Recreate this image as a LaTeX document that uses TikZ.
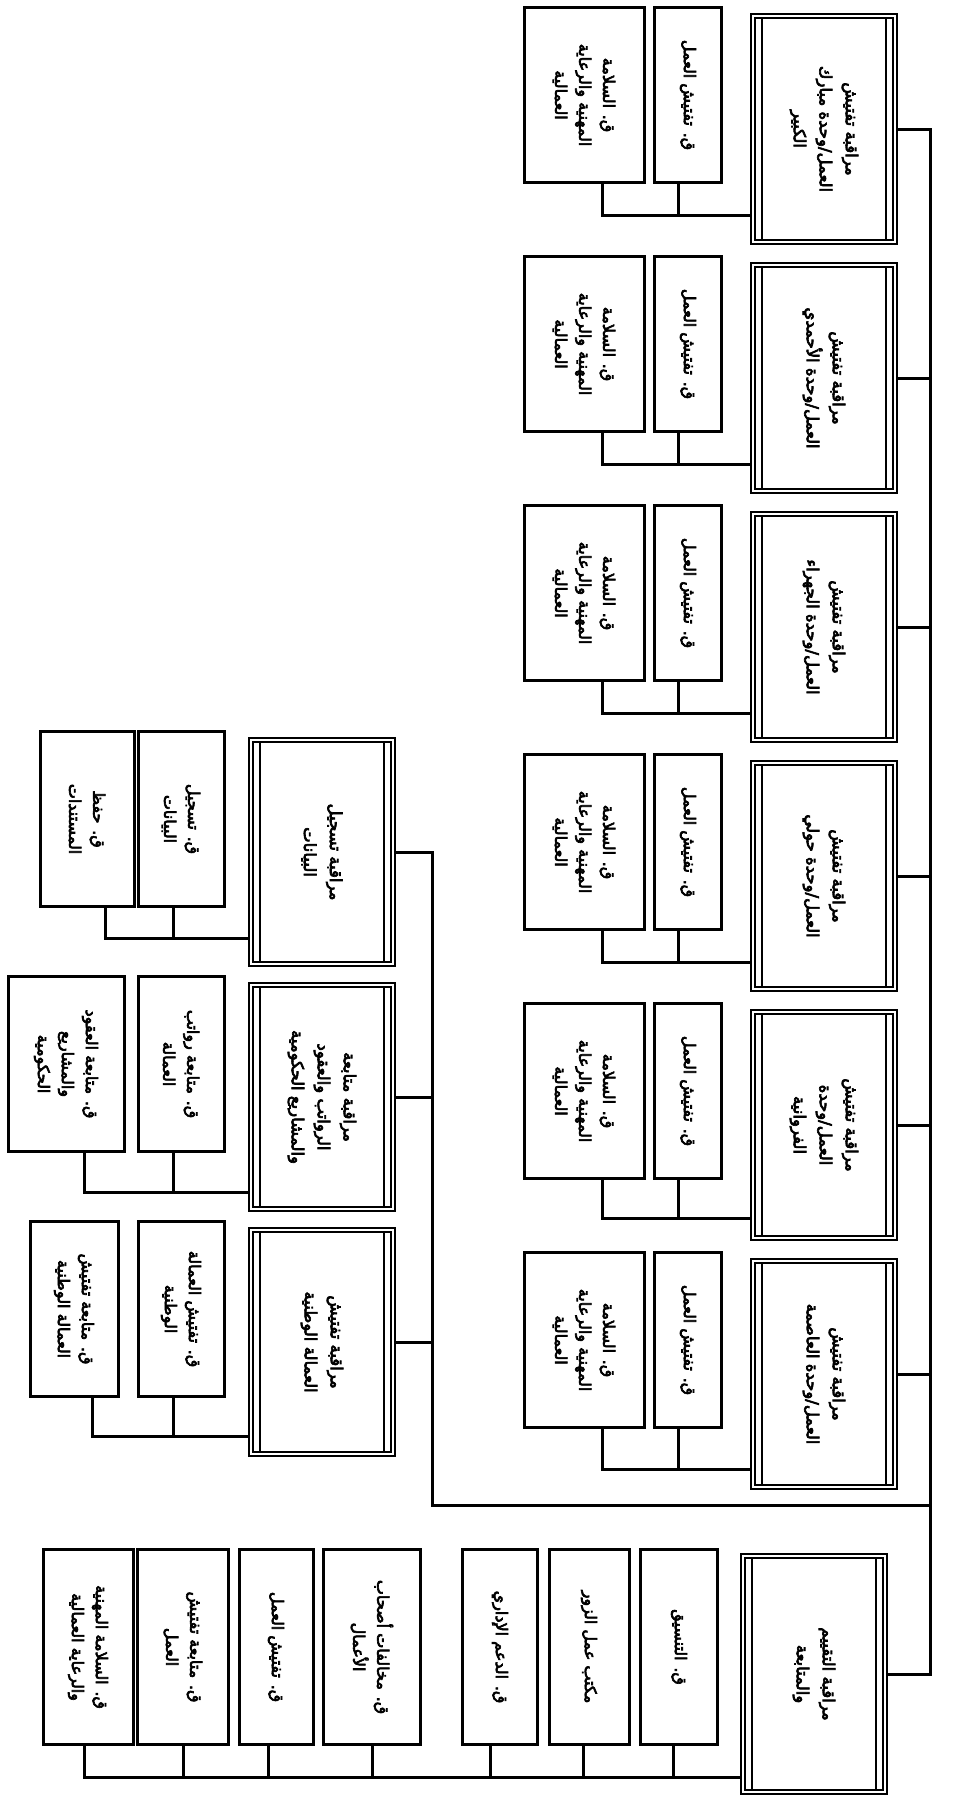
\documentclass[tikz,border=0pt]{standalone}
\usepackage{fontspec}
\newfontfamily\arabicfont[Script=Arabic,FakeBold=4]{DejaVu Sans}
\TeXXeTstate=1
\usetikzlibrary{backgrounds}
\newcommand\artxt[1]{\beginR #1\endR}
\tikzset{
  unitbox/.style={draw, line width=1.7pt, double, double distance=2.3pt, rotate=-90,
    minimum width=226pt, minimum height=142pt, align=center, inner sep=4pt,
    font=\arabicfont\fontsize{16.5}{26}\selectfont,
    path picture={\draw[line width=2pt] ([shift={(9pt,9pt)}]path picture bounding box.south west)
      rectangle ([shift={(-9pt,-9pt)}]path picture bounding box.north east);}},
  secbox/.style={draw, line width=3pt, rotate=-90, minimum width=175pt, align=center,
    inner sep=3pt, font=\arabicfont\fontsize{16}{24}\selectfont},
  link/.style={line width=3pt},
}
\begin{document}
\begin{tikzpicture}[x=1pt,y=-1pt]
\useasboundingbox (0,0) rectangle (954,1797);
% units of labour inspection
\node[unitbox] (mbk) at (824,129) {\artxt{مراقبة تفتيش}\\\artxt{العمل/وحدة مبارك}\\\artxt{الكبير}};
\node[secbox, minimum height=67pt] (mbk-a) at (688,95) {\artxt{ق. تفتيش العمل}};
\node[secbox, minimum height=120pt] (mbk-b) at (584,95) {\artxt{ق. السلامة}\\\artxt{المهنية والرعاية}\\\artxt{العمالية}};
\node[unitbox] (ahm) at (824,378) {\artxt{مراقبة تفتيش}\\\artxt{العمل/وحدة الأحمدي}};
\node[secbox, minimum height=67pt] (ahm-a) at (688,344) {\artxt{ق. تفتيش العمل}};
\node[secbox, minimum height=120pt] (ahm-b) at (584,344) {\artxt{ق. السلامة}\\\artxt{المهنية والرعاية}\\\artxt{العمالية}};
\node[unitbox] (jhr) at (824,627) {\artxt{مراقبة تفتيش}\\\artxt{العمل/وحدة الجهراء}};
\node[secbox, minimum height=67pt] (jhr-a) at (688,593) {\artxt{ق. تفتيش العمل}};
\node[secbox, minimum height=120pt] (jhr-b) at (584,593) {\artxt{ق. السلامة}\\\artxt{المهنية والرعاية}\\\artxt{العمالية}};
\node[unitbox] (hwl) at (824,876) {\artxt{مراقبة تفتيش}\\\artxt{العمل/وحدة حولي}};
\node[secbox, minimum height=67pt] (hwl-a) at (688,842) {\artxt{ق. تفتيش العمل}};
\node[secbox, minimum height=120pt] (hwl-b) at (584,842) {\artxt{ق. السلامة}\\\artxt{المهنية والرعاية}\\\artxt{العمالية}};
\node[unitbox] (frw) at (824,1125) {\artxt{مراقبة تفتيش}\\\artxt{العمل/وحدة}\\\artxt{الفروانية}};
\node[secbox, minimum height=67pt] (frw-a) at (688,1091) {\artxt{ق. تفتيش العمل}};
\node[secbox, minimum height=120pt] (frw-b) at (584,1091) {\artxt{ق. السلامة}\\\artxt{المهنية والرعاية}\\\artxt{العمالية}};
\node[unitbox] (asm) at (824,1374) {\artxt{مراقبة تفتيش}\\\artxt{العمل/وحدة العاصمة}};
\node[secbox, minimum height=67pt] (asm-a) at (688,1340) {\artxt{ق. تفتيش العمل}};
\node[secbox, minimum height=120pt] (asm-b) at (584,1340) {\artxt{ق. السلامة}\\\artxt{المهنية والرعاية}\\\artxt{العمالية}};
% registration, salaries, national labour
\node[unitbox, minimum width=224pt] (dat) at (322,852) {\artxt{مراقبة تسجيل}\\\artxt{البيانات}};
\node[secbox, minimum height=86pt] (dat-a) at (181,819) {\artxt{ق. تسجيل}\\\artxt{البيانات}};
\node[secbox, minimum height=94pt] (dat-b) at (87,819) {\artxt{ق. حفظ}\\\artxt{المستندات}};
\node[unitbox, minimum width=224pt] (sal) at (322,1097) {\artxt{مراقبة متابعة}\\\artxt{الرواتب والعقود}\\\artxt{والمشاريع الحكومية}};
\node[secbox, minimum height=86pt] (sal-a) at (181,1064) {\artxt{ق. متابعة رواتب}\\\artxt{العمالة}};
\node[secbox, minimum height=116pt] (sal-b) at (66,1064) {\artxt{ق. متابعة العقود}\\\artxt{والمشاريع}\\\artxt{الحكومية}};
\node[unitbox, minimum width=224pt] (nat) at (322,1342) {\artxt{مراقبة تفتيش}\\\artxt{العمالة الوطنية}};
\node[secbox, minimum height=86pt] (nat-a) at (181,1309) {\artxt{ق. تفتيش العمالة}\\\artxt{الوطنية}};
\node[secbox, minimum height=88pt] (nat-b) at (74,1309) {\artxt{ق. متابعة تفتيش}\\\artxt{العمالة الوطنية}};
% evaluation and follow-up
\node[unitbox, minimum width=236pt] (eva) at (814,1674) {\artxt{مراقبة التقييم}\\\artxt{والمتابعة}};
\node[secbox, minimum width=195pt, minimum height=77pt] (coo) at (679,1647) {\artxt{ق. التنسيق}};
\node[secbox, minimum width=195pt, minimum height=80pt] (off) at (589,1647) {\artxt{مكتب عمل الزور}};
\node[secbox, minimum width=195pt, minimum height=75pt] (adm) at (500,1647) {\artxt{ق. الدعم الإداري}};
\node[secbox, minimum width=195pt, minimum height=97pt] (vio) at (372,1647) {\artxt{ق. مخالفات أصحاب}\\\artxt{الأعمال}};
\node[secbox, minimum width=195pt, minimum height=74pt] (ins) at (276,1647) {\artxt{ق. تفتيش العمل}};
\node[secbox, minimum width=195pt, minimum height=91pt] (fol) at (183,1647) {\artxt{ق. متابعة تفتيش}\\\artxt{العمل}};
\node[secbox, minimum width=195pt, minimum height=90pt] (saf) at (88,1647) {\artxt{ق. السلامة المهنية}\\\artxt{والرعاية العمالية}};
\coordinate (trunk) at (930,0);
\coordinate (bus) at (432,1505);
\begin{scope}[on background layer]
\draw[link] (mbk.north) -| (eva.north -| trunk) -- (eva.north);
\draw[link] (ahm.north) -- (ahm.north -| trunk);
\draw[link] (jhr.north) -- (jhr.north -| trunk);
\draw[link] (hwl.north) -- (hwl.north -| trunk);
\draw[link] (frw.north) -- (frw.north -| trunk);
\draw[link] (asm.north) -- (asm.north -| trunk);
\draw[link] (dat.north) -| (bus) -- (bus -| trunk);
\draw[link] (sal.north) -- (sal.north -| bus);
\draw[link] (nat.north) -- (nat.north -| bus);
\draw[link] ([xshift=-10pt]mbk-a.east) |- ([yshift=27pt]mbk.south east);
\draw[link] ([xshift=18pt]mbk-b.east) |- ([yshift=27pt]mbk.south east);
\draw[link] ([xshift=-10pt]ahm-a.east) |- ([yshift=27pt]ahm.south east);
\draw[link] ([xshift=18pt]ahm-b.east) |- ([yshift=27pt]ahm.south east);
\draw[link] ([xshift=-10pt]jhr-a.east) |- ([yshift=27pt]jhr.south east);
\draw[link] ([xshift=18pt]jhr-b.east) |- ([yshift=27pt]jhr.south east);
\draw[link] ([xshift=-10pt]hwl-a.east) |- ([yshift=27pt]hwl.south east);
\draw[link] ([xshift=18pt]hwl-b.east) |- ([yshift=27pt]hwl.south east);
\draw[link] ([xshift=-10pt]frw-a.east) |- ([yshift=20pt]frw.south east);
\draw[link] ([xshift=18pt]frw-b.east) |- ([yshift=20pt]frw.south east);
\draw[link] ([xshift=-10pt]asm-a.east) |- ([yshift=18pt]asm.south east);
\draw[link] ([xshift=18pt]asm-b.east) |- ([yshift=18pt]asm.south east);
\draw[link] ([xshift=-8pt]dat-a.east) |- ([yshift=26pt]dat.south east);
\draw[link] ([xshift=18pt]dat-b.east) |- ([yshift=26pt]dat.south east);
\draw[link] ([xshift=-8pt]sal-a.east) |- ([yshift=17pt]sal.south east);
\draw[link] ([xshift=18pt]sal-b.east) |- ([yshift=17pt]sal.south east);
\draw[link] ([xshift=-8pt]nat-a.east) |- ([yshift=18pt]nat.south east);
\draw[link] ([xshift=18pt]nat-b.east) |- ([yshift=18pt]nat.south east);
\draw[link] ([xshift=-6pt]coo.east) |- ([yshift=15pt]eva.south east);
\draw[link] ([xshift=-6pt]off.east) |- ([yshift=15pt]eva.south east);
\draw[link] ([xshift=-10pt]adm.east) |- ([yshift=15pt]eva.south east);
\draw[link] (vio.east) |- ([yshift=15pt]eva.south east);
\draw[link] ([xshift=-8pt]ins.east) |- ([yshift=15pt]eva.south east);
\draw[link] (fol.east) |- ([yshift=15pt]eva.south east);
\draw[link] ([xshift=-4pt]saf.east) |- ([yshift=15pt]eva.south east);
\end{scope}
\end{tikzpicture}
\end{document}
